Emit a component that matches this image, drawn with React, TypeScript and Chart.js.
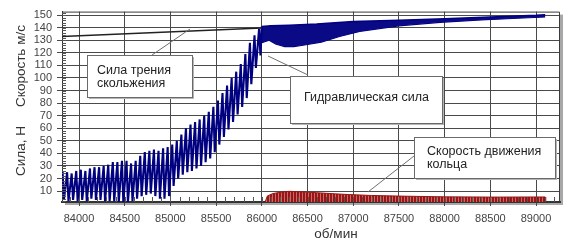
import React, { useEffect, useRef } from 'react';
import { Chart, registerables } from 'chart.js';
Chart.register(...registerables);

// ---------- data ----------
const xTickValues = [84000, 84500, 85000, 85500, 86000, 86500, 87000, 87500, 88000, 88500, 89000];
const yTickValues = [10, 20, 30, 40, 50, 60, 70, 80, 90, 100, 110, 120, 130, 140, 150];

// Сила трения скольжения
const frictionRpm = [83814, 86000];
const frictionForce = [133, 139.7];

// Гидравлическая сила — oscillation peaks and troughs (before 86000)
const hydroPeakRpm = [83820, 83870, 83920, 83970, 84020, 84070, 84120, 84170, 84220, 84270, 84320, 84370, 84420, 84470, 84520, 84570, 84620, 84670, 84720, 84770, 84820, 84870, 84920, 84970, 85020, 85070, 85120, 85170, 85220, 85270, 85320, 85370, 85420, 85470, 85520, 85570, 85620, 85670, 85720, 85770, 85820, 85870, 85920, 85970];
const hydroPeak = [26, 25, 24, 26, 27, 26, 28, 29, 29, 30, 31, 33, 33, 34, 34, 32, 34, 38, 41, 42, 43, 42, 44, 45, 47, 50, 55, 60, 63, 65, 67, 70, 73, 77, 82, 88, 94, 100, 105, 111, 119, 128, 134, 139];
const hydroTroughRpm = [83835, 83885, 83935, 83985, 84035, 84085, 84135, 84185, 84235, 84285, 84335, 84385, 84435, 84485, 84535, 84585, 84635, 84685, 84735, 84785, 84835, 84885, 84935, 84985, 85035, 85085, 85135, 85185, 85235, 85285, 85335, 85385, 85435, 85485, 85535, 85585, 85635, 85685, 85735, 85785, 85835, 85885, 85935, 85985];
const hydroTrough = [3, 2, 3, 2, 3, 2, 4, 3, 3, 2, 2, 2, 1, 1, 1, 2, 4, 6, 7, 8, 6, 4, 4, 6, 14, 20, 23, 25, 26, 28, 30, 33, 36, 41, 47, 53, 59, 65, 71, 77, 84, 95, 108, 118];

// Гидравлическая сила — dense band after 86000 (upper / lower envelope)
const bandUpperRpm = [86000, 86100, 86300, 86600, 87000, 87500, 88000, 88500, 89000, 89100];
const bandUpper = [141, 141.5, 142, 143, 145, 146, 147.2, 148.5, 149.8, 150.3];
const bandLowerRpm = [86000, 86080, 86150, 86250, 86350, 86450, 86650, 86850, 87070, 87500, 87950, 88400, 88800, 89100];
const bandLower = [128, 130, 127, 125, 125, 126, 128.5, 133, 137, 141.5, 144.3, 146.2, 147.5, 148.5];

// Скорость движения кольца
const ringRpm = [86030, 86060, 86120, 86200, 86300, 86450, 86600, 86800, 86960, 87200, 87500, 88000, 88500, 89000, 89100, 89105];
const ringSpeed = [0, 6, 8, 9, 9.8, 9.3, 8.7, 7.8, 7.2, 6.5, 6, 5.4, 5.2, 5.3, 5.3, 0];

const xMin = 83814;
const xMax = 89262;
const yMin = 1.3;
const yMax = 152.8;

const FONT = "'Liberation Sans', Arial, sans-serif";

const annotations = [
  { box: [87, 55, 105, 42], lines: ['Сила трения', 'скольжения'], tx: 97, ty: [70.5, 83.5], leader: [152, 55, 190, 29] },
  { box: [290, 76, 152, 47], lines: ['Гидравлическая сила'], tx: 304, ty: [97.5], leader: [268, 56, 308, 75] },
  { box: [414, 137, 141, 41], lines: ['Скорость движения', 'кольца'], tx: 427, ty: [151.5, 164.5], leader: [414, 156, 368, 192] },
];

export default function App() {
  const ref = useRef<HTMLCanvasElement | null>(null);

  useEffect(() => {
    document.body.style.margin = '0';
    const canvas = ref.current!;

    const pc = document.createElement('canvas');
    pc.width = 3; pc.height = 4;
    const pctx = pc.getContext('2d')!;
    pctx.fillStyle = '#9a1414';
    pctx.fillRect(0, 0, 3, 4);
    pctx.fillStyle = '#c86a6a';
    pctx.fillRect(2, 0, 1, 4);
    const ringPattern = pctx.createPattern(pc, 'repeat') || '#9a1414';

    const zig: { x: number; y: number }[] = [];
    for (let i = 0; i < hydroPeakRpm.length; i++) {
      zig.push({ x: hydroPeakRpm[i], y: hydroPeak[i] });
      zig.push({ x: hydroTroughRpm[i], y: hydroTrough[i] });
    }
    zig.push({ x: bandUpperRpm[0], y: bandUpper[0] });

    const decor = {
      id: 'decor',
      beforeDraw(chart: any) {
        const { ctx, chartArea: a } = chart;
        ctx.save();
        ctx.fillStyle = '#fff';
        ctx.fillRect(0, 0, chart.width, chart.height);
        ctx.fillStyle = '#a8a8a8';
        ctx.fillRect(a.right, a.top + 3, 3, a.bottom - a.top);
        ctx.fillRect(a.left + 3, a.bottom, a.right - a.left, 3);
        ctx.restore();
      },
      afterDraw(chart: any) {
        const { ctx, chartArea: a } = chart;
        const xs = chart.scales.x;
        const ys = chart.scales.y;
        ctx.save();
        ctx.strokeStyle = '#3a3a3a';
        ctx.lineWidth = 1;
        ctx.beginPath();
        ctx.moveTo(a.left, a.top + 0.5);
        ctx.lineTo(a.right - 0.5, a.top + 0.5);
        ctx.lineTo(a.right - 0.5, a.bottom);
        ctx.stroke();
        ctx.strokeStyle = '#555';
        ctx.beginPath();
        for (let v = 2; v < yMax; v += 2) {
          if (v < yMin) continue;
          const py = Math.round(ys.getPixelForValue(v)) + 0.5;
          ctx.moveTo(a.left, py);
          ctx.lineTo(a.left + 4, py);
        }
        for (let v = 83900; v < xMax; v += 100) {
          const px = Math.round(xs.getPixelForValue(v)) + 0.5;
          ctx.moveTo(px, a.bottom);
          ctx.lineTo(px, a.bottom - 5);
        }
        ctx.stroke();

        for (const an of annotations) {
          const [bx, by, bw, bh] = an.box;
          const [l1x, l1y, l2x, l2y] = an.leader;
          ctx.strokeStyle = '#707070';
          ctx.lineWidth = 1;
          ctx.beginPath();
          ctx.moveTo(l1x, l1y);
          ctx.lineTo(l2x, l2y);
          ctx.stroke();
          ctx.fillStyle = '#b5b5b5';
          ctx.fillRect(bx + 2, by + 2, bw, bh);
          ctx.fillStyle = '#fff';
          ctx.fillRect(bx, by, bw, bh);
          ctx.strokeStyle = '#6a6a6a';
          ctx.strokeRect(bx + 0.5, by + 0.5, bw, bh);
          ctx.fillStyle = '#222';
          ctx.font = `12.5px ${FONT}`;
          ctx.textAlign = 'left';
          ctx.textBaseline = 'middle';
          an.lines.forEach((t, i) => ctx.fillText(t, an.tx, an.ty[i]));
        }

        ctx.fillStyle = '#333';
        ctx.font = `13.5px ${FONT}`;
        ctx.textAlign = 'center';
        ctx.textBaseline = 'middle';
        ctx.fillText('об/мин', 336, 234);
        ctx.save();
        ctx.translate(21, 66);
        ctx.rotate(-Math.PI / 2);
        ctx.fillText('Скорость м/с', 0, 0);
        ctx.restore();
        ctx.save();
        ctx.translate(21, 151);
        ctx.rotate(-Math.PI / 2);
        ctx.fillText('Сила, Н', 0, 0);
        ctx.restore();
        ctx.restore();
      },
    };

    const chart = new Chart(canvas, {
      type: 'line',
      data: {
        datasets: [
          {
            label: 'Сила трения скольжения',
            data: frictionRpm.map((x, i) => ({ x, y: frictionForce[i] })),
            borderColor: '#222',
            borderWidth: 1.4,
            pointRadius: 0,
            fill: false,
          },
          {
            label: 'Гидравлическая сила',
            data: zig,
            borderColor: '#000080',
            borderWidth: 2.1,
            pointRadius: 0,
            fill: false,
          },
          {
            label: 'band upper',
            data: bandUpperRpm.map((x, i) => ({ x, y: bandUpper[i] })),
            borderColor: '#000080',
            backgroundColor: '#0a0a86',
            borderWidth: 1.5,
            pointRadius: 0,
            fill: '+1',
          },
          {
            label: 'band lower',
            data: bandLowerRpm.map((x, i) => ({ x, y: bandLower[i] })),
            borderColor: '#000080',
            borderWidth: 1.2,
            pointRadius: 0,
            fill: false,
          },
          {
            label: 'Скорость движения кольца',
            data: ringRpm.map((x, i) => ({ x, y: ringSpeed[i] })),
            borderColor: '#9a1414',
            backgroundColor: ringPattern as any,
            borderWidth: 1,
            pointRadius: 0,
            fill: 'origin',
          },
        ],
      },
      options: {
        responsive: false,
        animation: false,
        layout: { padding: { top: 9, right: 6, left: 0, bottom: 0 } },
        plugins: { legend: { display: false }, tooltip: { enabled: false } },
        scales: {
          x: {
            type: 'linear',
            min: xMin,
            max: xMax,
            afterBuildTicks: (s: any) => { s.ticks = xTickValues.map((v) => ({ value: v })); },
            afterFit: (s: any) => { s.height = 39; },
            ticks: {
              font: { family: FONT, size: 11 },
              color: '#444',
              padding: 6,
              maxRotation: 0,
              autoSkip: false,
              callback: (v: any) => String(v),
            },
            grid: { color: '#4a4a4a', lineWidth: 1, tickLength: 4, drawTicks: true },
            border: { display: true, color: '#333', width: 2 },
          },
          y: {
            type: 'linear',
            min: yMin,
            max: yMax,
            afterBuildTicks: (s: any) => { s.ticks = yTickValues.map((v) => ({ value: v })); },
            afterFit: (s: any) => { s.width = 62; },
            ticks: {
              font: { family: FONT, size: 11 },
              color: '#444',
              padding: 5,
              autoSkip: false,
              callback: (v: any) => String(v),
            },
            grid: { color: '#4a4a4a', lineWidth: 1, tickLength: 5, drawTicks: true },
            border: { display: true, color: '#333', width: 1 },
          },
        },
      },
      plugins: [decor],
    });
    return () => chart.destroy();
  }, []);

  return <canvas ref={ref} width={566} height={241} style={{ display: 'block' }} />;
}
